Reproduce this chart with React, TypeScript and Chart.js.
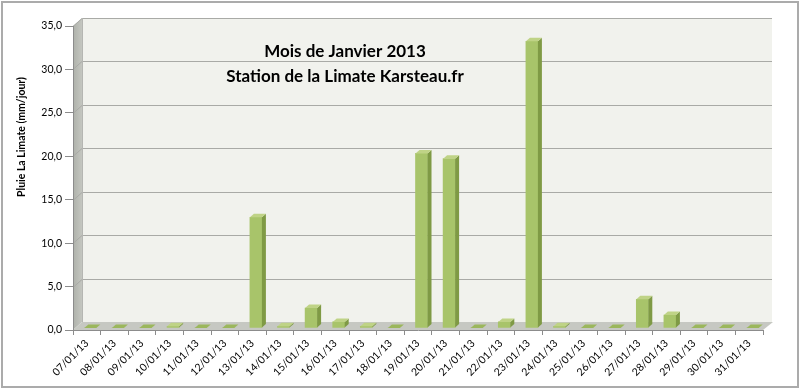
import React, { useEffect, useRef } from "react";
import { Chart, registerables } from "chart.js";

Chart.register(...registerables);

const categories = [
  "07/01/13", "08/01/13", "09/01/13", "10/01/13", "11/01/13", "12/01/13", "13/01/13",
  "14/01/13", "15/01/13", "16/01/13", "17/01/13", "18/01/13", "19/01/13", "20/01/13",
  "21/01/13", "22/01/13", "23/01/13", "24/01/13", "25/01/13", "26/01/13", "27/01/13",
  "28/01/13", "29/01/13", "30/01/13", "31/01/13",
];
const rainfall = [
  0, 0, 0, 0.2, 0, 0, 12.75,
  0.2, 2.3, 0.7, 0.2, 0, 20.1, 19.5,
  0, 0.7, 33.0, 0.2, 0, 0, 3.3,
  1.5, 0, 0, 0,
];
const titleLines = ["Mois de Janvier 2013", "Station de la Limate Karsteau.fr"];
const yAxisTitle = "Pluie La Limate (mm/jour)";
const yTickValues = [0, 5, 10, 15, 20, 25, 30, 35];
const yTickLabels = ["0,0", "5,0", "10,0", "15,0", "20,0", "25,0", "30,0", "35,0"];

const FONT = "Lato, 'Open Sans', sans-serif";
const WALL_DX = 9;
const WALL_DY = 8;
const BAR_DX = 4;
const BAR_DY = 3.5;
const BAR_SHIFT_X = 3.5;
const BAR_SHIFT_Y = -2;

const scene3d = {
  id: "scene3d",
  beforeDraw(chart: any) {
    const ctx = chart.ctx;
    const { width, height } = chart;
    const a = chart.chartArea;
    const y = chart.scales.y;
    ctx.save();
    ctx.fillStyle = "#ffffff";
    ctx.fillRect(0, 0, width, height);
    ctx.strokeStyle = "#ababab";
    ctx.lineWidth = 2;
    ctx.strokeRect(2, 2, width - 4, height - 4);

    // left wall
    const lg = ctx.createLinearGradient(a.left, 0, a.left + WALL_DX, 0);
    lg.addColorStop(0, "#aeb1aa");
    lg.addColorStop(1, "#c4c6c0");
    ctx.fillStyle = lg;
    ctx.beginPath();
    ctx.moveTo(a.left, a.top);
    ctx.lineTo(a.left + WALL_DX, a.top - WALL_DY);
    ctx.lineTo(a.left + WALL_DX, a.bottom - WALL_DY);
    ctx.lineTo(a.left, a.bottom);
    ctx.closePath();
    ctx.fill();

    // back wall
    ctx.fillStyle = "#f1f2ed";
    ctx.fillRect(a.left + WALL_DX, a.top - WALL_DY, a.right - a.left, a.bottom - a.top);

    // floor
    ctx.fillStyle = "#c6c8c2";
    ctx.beginPath();
    ctx.moveTo(a.left, a.bottom);
    ctx.lineTo(a.left + WALL_DX, a.bottom - WALL_DY);
    ctx.lineTo(a.right + WALL_DX + 1, a.bottom - WALL_DY);
    ctx.lineTo(a.right, a.bottom);
    ctx.closePath();
    ctx.fill();

    // gridlines
    ctx.strokeStyle = "#a9aaa6";
    ctx.lineWidth = 1;
    yTickValues.forEach((v) => {
      const py = Math.round(y.getPixelForValue(v)) + 0.5;
      if (v > 0) {
        ctx.beginPath();
        ctx.moveTo(a.left, py);
        ctx.lineTo(a.left + WALL_DX, py - WALL_DY);
        ctx.lineTo(a.right + WALL_DX, py - WALL_DY);
        ctx.stroke();
      }
    });
    ctx.strokeStyle = "#b5b6b2";
    ctx.beginPath();
    ctx.moveTo(a.left + WALL_DX + 0.5, a.top - WALL_DY);
    ctx.lineTo(a.left + WALL_DX + 0.5, a.bottom - WALL_DY);
    ctx.stroke();

    // title
    ctx.fillStyle = "#000000";
    ctx.font = `bold 17px ${FONT}`;
    ctx.textAlign = "center";
    ctx.textBaseline = "middle";
    ctx.fillText(titleLines[0], 345, 52);
    ctx.fillText(titleLines[1], 345, 77);

    // y-axis title
    ctx.translate(22, 137);
    ctx.rotate(-Math.PI / 2);
    ctx.font = `bold 10.5px ${FONT}`;
    ctx.fillText(yAxisTitle, 0, 0);
    ctx.restore();
  },
  beforeDatasetsDraw(chart: any) {
    chart.ctx.save();
    chart.ctx.translate(BAR_SHIFT_X, BAR_SHIFT_Y);
  },
  afterDatasetsDraw(chart: any) {
    const ctx = chart.ctx;
    const meta = chart.getDatasetMeta(0);
    meta.data.forEach((bar: any) => {
      const { x, y, base, width } = bar.getProps(["x", "y", "base", "width"], true);
      const l = x - width / 2;
      const r = x + width / 2;
      // side face
      ctx.fillStyle = "#7f9a45";
      ctx.beginPath();
      ctx.moveTo(r, y);
      ctx.lineTo(r + BAR_DX, y - BAR_DY);
      ctx.lineTo(r + BAR_DX, base - BAR_DY);
      ctx.lineTo(r, base);
      ctx.closePath();
      ctx.fill();
      // top face
      ctx.fillStyle = base - y < 0.5 ? "#9bb75c" : "#bfd386";
      ctx.beginPath();
      ctx.moveTo(l, y);
      ctx.lineTo(r, y);
      ctx.lineTo(r + BAR_DX, y - BAR_DY);
      ctx.lineTo(l + BAR_DX, y - BAR_DY);
      ctx.closePath();
      ctx.fill();
    });
    ctx.restore();
  },
};

export default function App() {
  const ref = useRef<HTMLCanvasElement | null>(null);
  useEffect(() => {
    if (!ref.current) return;
    const chart = new Chart(ref.current, {
      type: "bar",
      data: {
        labels: categories,
        datasets: [
          {
            data: rainfall,
            backgroundColor: "#a8c46a",
            borderWidth: 0,
            barThickness: 12,
          },
        ],
      },
      options: {
        responsive: false,
        animation: false,
        events: [],
        layout: { padding: { top: 26, right: 37, left: 0, bottom: 0 } },
        plugins: { legend: { display: false }, tooltip: { enabled: false }, title: { display: false } },
        scales: {
          x: {
            afterFit: (s: any) => {
              s.height = 59;
            },
            grid: {
              offset: true,
              drawOnChartArea: false,
              drawTicks: true,
              tickLength: 5,
              color: "#8c8c8c",
            },
            border: { display: true, color: "#8c8c8c" },
            ticks: {
              minRotation: 45,
              maxRotation: 45,
              autoSkip: false,
              padding: 2,
              color: "#000",
              font: { family: FONT, size: 10.5 },
            },
          },
          y: {
            min: 0,
            max: 35,
            afterFit: (s: any) => {
              s.width = 73;
            },
            afterBuildTicks: (s: any) => {
              s.ticks = yTickValues.map((v) => ({ value: v }));
            },
            grid: {
              drawOnChartArea: false,
              drawTicks: true,
              tickLength: 8,
              color: "#8c8c8c",
            },
            border: { display: true, color: "#8c8c8c" },
            ticks: {
              padding: 3,
              color: "#000",
              font: { family: FONT, size: 10.5 },
              callback: (v: any) => yTickLabels[yTickValues.indexOf(Number(v))] ?? "",
            },
            title: { display: false },
          },
        },
      },
      plugins: [scene3d],
    });
    return () => chart.destroy();
  }, []);
  return (
    <div style={{ position: "absolute", left: 0, top: 0, width: 800, height: 389 }}>
      <canvas ref={ref} width={800} height={389} style={{ display: "block" }} />
    </div>
  );
}
